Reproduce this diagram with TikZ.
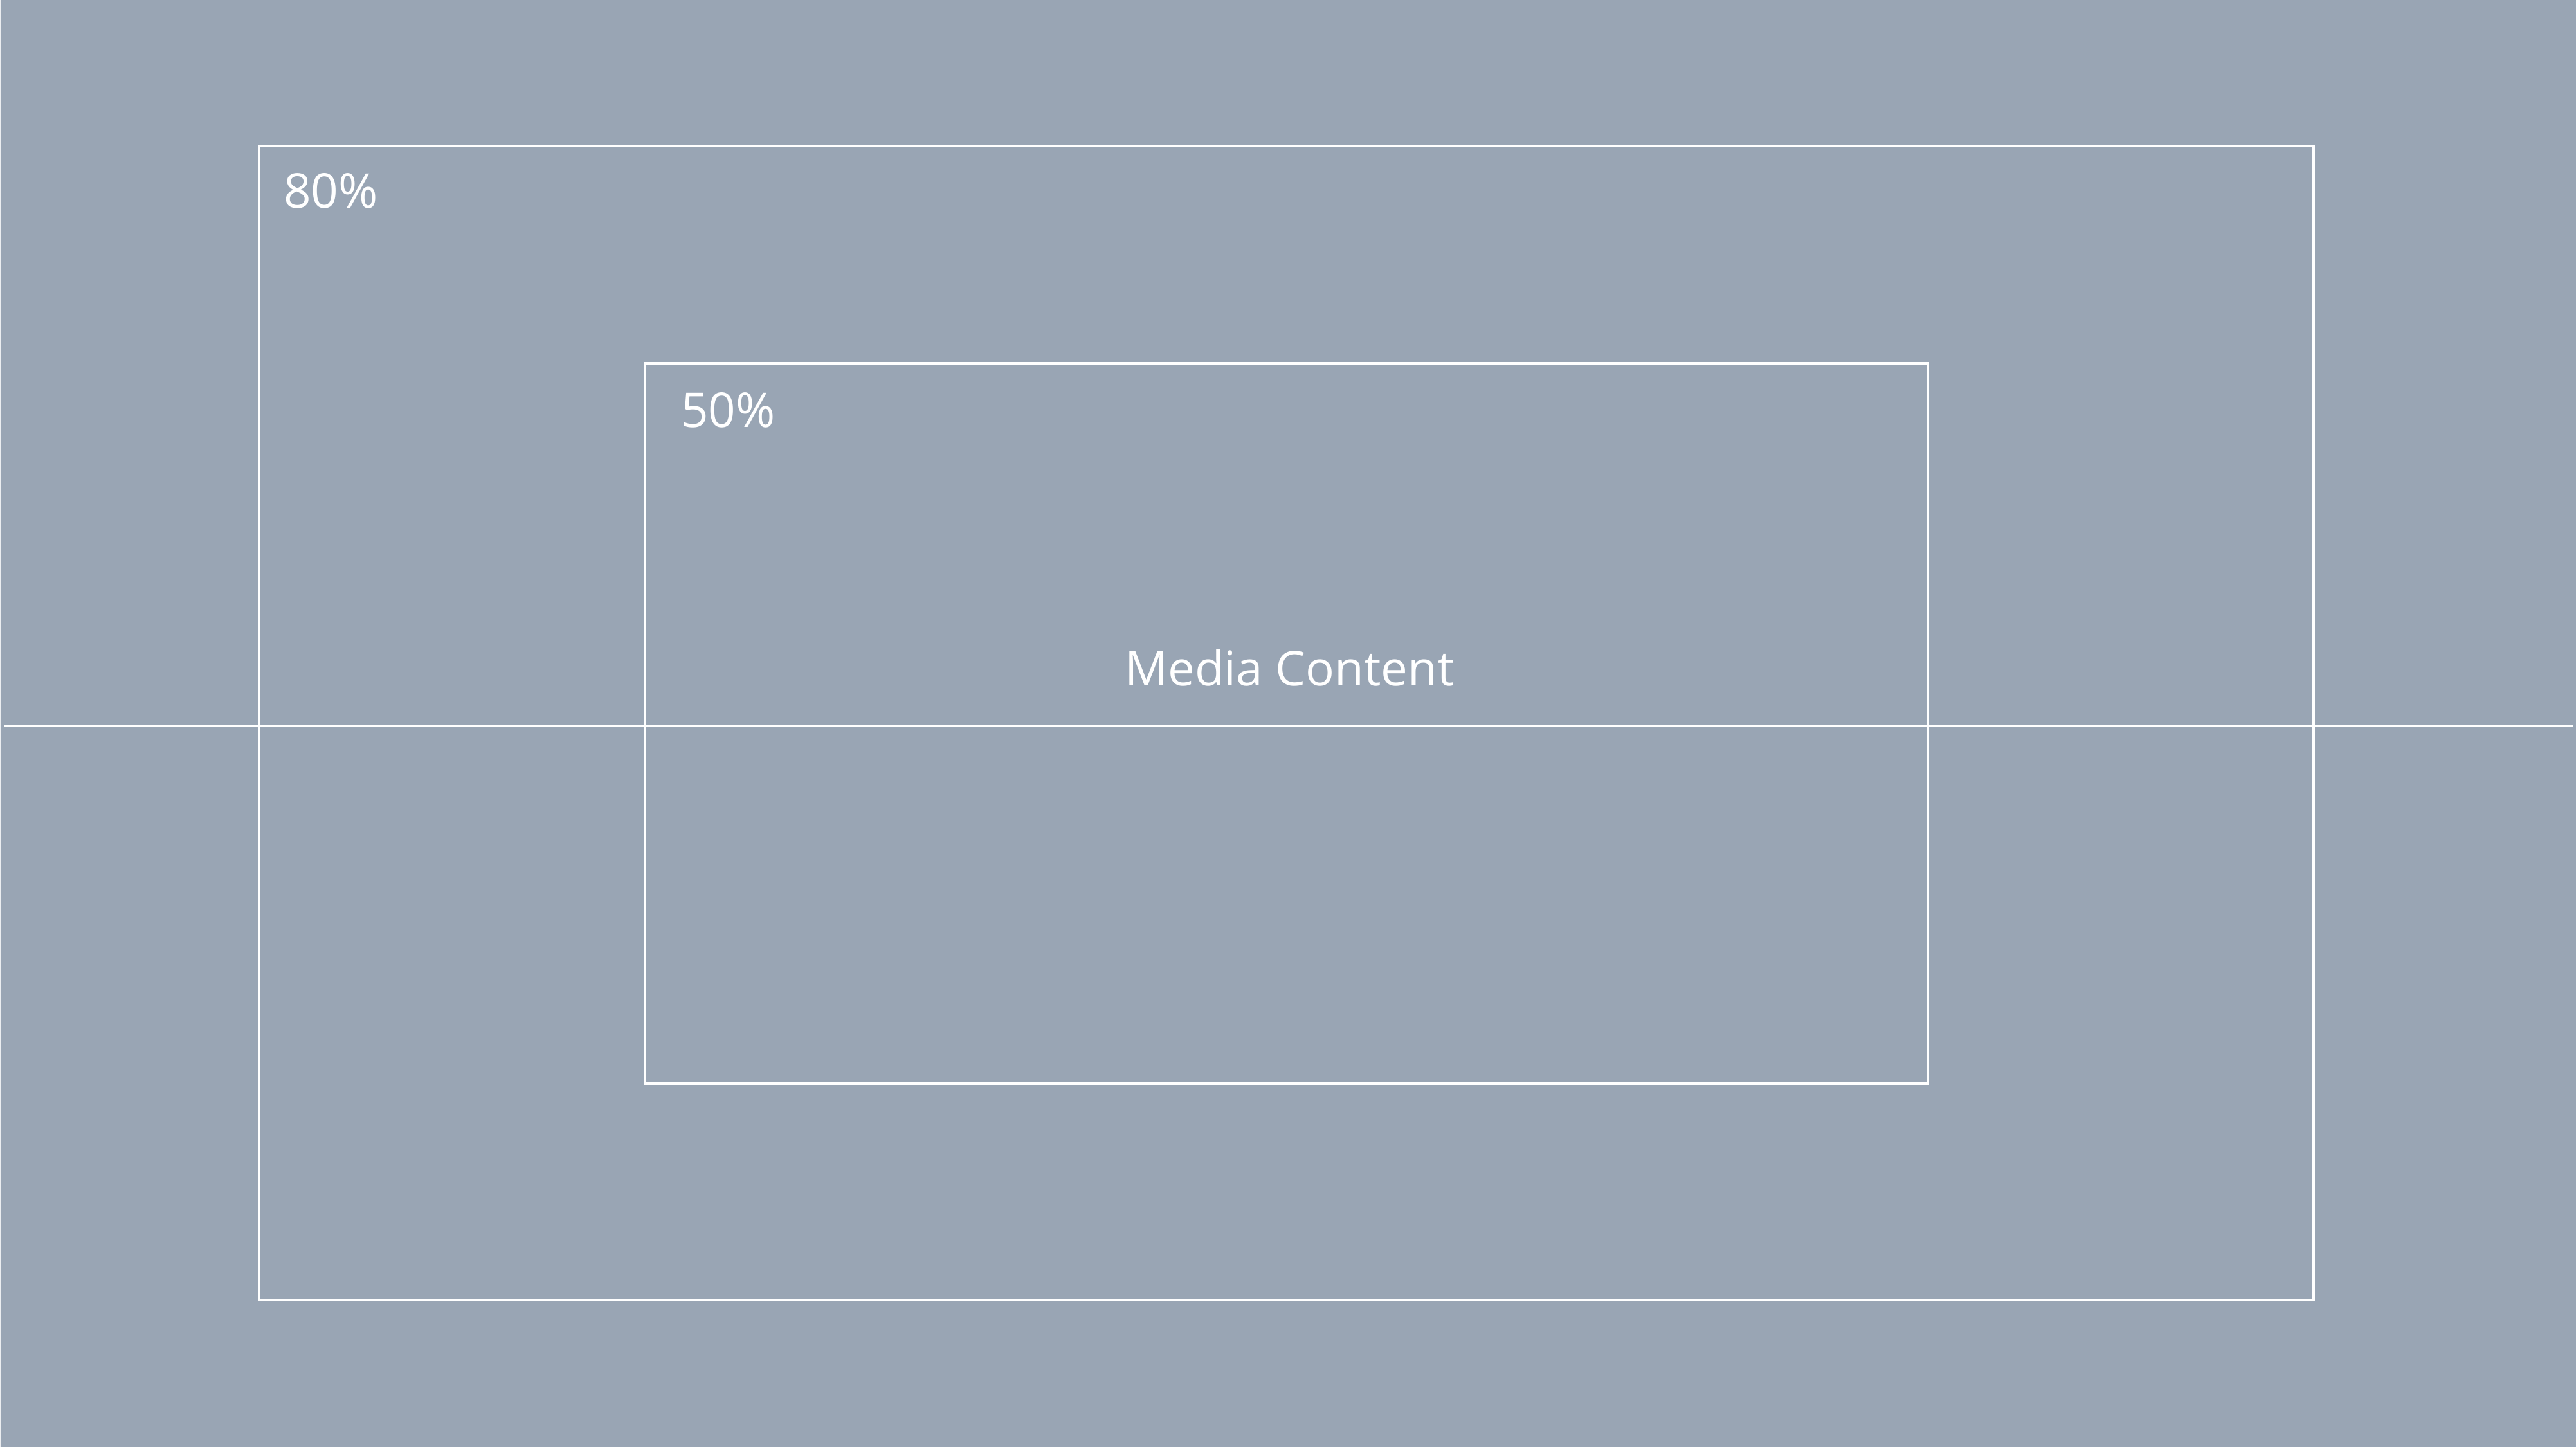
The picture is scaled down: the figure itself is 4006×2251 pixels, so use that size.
\documentclass[tikz,border=0pt]{standalone}
\usepackage{fontspec}
\setmainfont{Open Sans}
\definecolor{bg}{HTML}{99A5B4}
\begin{document}
\begin{tikzpicture}[x=1pt,y=-1pt,
  frame/.style={draw=white,line width=4pt},
  lbl/.style={text=white,font=\fontsize{74.5}{90}\selectfont,inner sep=0pt,anchor=base west}]
\useasboundingbox (0,0) rectangle (4006,2251);
\fill[bg] (0,0) rectangle (4006,2251);
\draw[white!80!bg,line width=2pt] (1,0) -- (1,2251);
\draw[frame] (402.5,227) rectangle (3598,2022);
\draw[frame] (1002.5,564.5) rectangle (2998,1685);
\coordinate (hl) at (6,1129);
\coordinate (hr) at (4001,1129);
\draw[frame] (hl) -- (hr);
\node[lbl] (t80) at (441,323) {80\%};
\node[lbl] (t50) at (1059,664) {50\%};
\node[lbl] (tmc) at (1749,1066) {Media Content};
\end{tikzpicture}
\end{document}
